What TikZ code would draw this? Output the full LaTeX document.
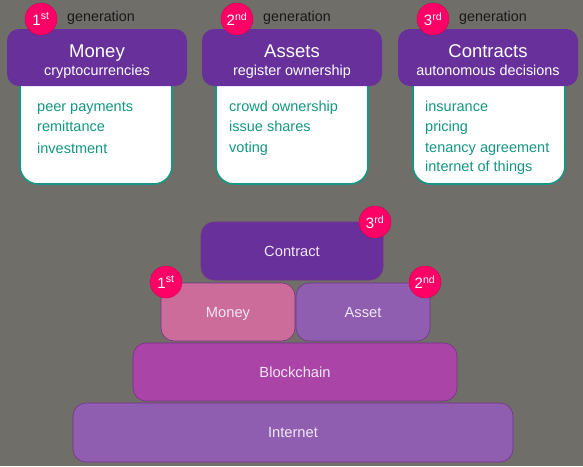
\documentclass[tikz,border=0pt]{standalone}
\usepackage{fontspec}
\setmainfont{Liberation Sans}
\definecolor{bg}{RGB}{111,110,105}
\definecolor{hdr}{RGB}{104,48,154}
\definecolor{badge}{RGB}{255,0,102}
\definecolor{teal}{RGB}{20,150,130}
\definecolor{pinkb}{RGB}{204,108,155}
\definecolor{lilac}{RGB}{143,94,176}
\definecolor{magb}{RGB}{170,68,166}
\definecolor{edge}{RGB}{120,50,140}
\definecolor{gentext}{RGB}{25,25,25}
\definecolor{lighttext}{RGB}{240,230,245}
\begin{document}
\begin{tikzpicture}[x=1pt,y=-1pt,
  hdrbox/.style={fill=hdr,rounded corners=12pt},
  bodybox/.style={fill=white,draw=teal,line width=1.6pt,rounded corners=18pt},
  badgenode/.style={circle,fill=badge,draw=badge!80!black,line width=0.4pt,minimum size=32pt,inner sep=0pt,text=white,font=\fontsize{15}{15}\selectfont},
  gen/.style={anchor=base west,inner sep=0pt,text=gentext,font=\fontsize{14.3}{14.3}\selectfont},
  title/.style={anchor=base,inner sep=0pt,text=white,font=\fontsize{18.5}{18.5}\selectfont},
  sub/.style={anchor=base,inner sep=0pt,text=white,font=\fontsize{14.4}{14.4}\selectfont},
  item/.style={anchor=base west,inner sep=0pt,text=teal,font=\fontsize{14.5}{14.5}\selectfont},
  layer/.style={draw=edge,line width=0.6pt,rounded corners=13pt,text=lighttext,text height=12pt,text depth=1.5pt,font=\fontsize{14.7}{14.7}\selectfont}
]
\fill[bg] (0,0) rectangle (583,466);

% cards
\foreach \hx/\bx in {7/20,202/216,398/413}{
  \path[bodybox] (\bx,60) -- (\bx,184) -- (\bx+152,184) -- (\bx+152,60) [sharp corners] -- cycle;
  \path[hdrbox] (\hx,29) rectangle (\hx+180,86);
}
\node[title] (t1) at (97,57) {Money};
\node[sub] (s1) at (97,75.5) {cryptocurrencies};
\node[title] (t2) at (292,57) {Assets};
\node[sub] (s2) at (292,75.5) {register ownership};
\node[title] (t3) at (488,57) {Contracts};
\node[sub] (s3) at (488,75.5) {autonomous decisions};

\node[badgenode] (b1) at (41,19) {1\textsuperscript{st}};
\node[badgenode] (b2) at (237,19) {2\textsuperscript{nd}};
\node[badgenode] (b3) at (433,19) {3\textsuperscript{rd}};
\node[gen] (g1) at (67,21.5) {generation};
\node[gen] (g2) at (263,21.5) {generation};
\node[gen] (g3) at (459,21.5) {generation};

\node[item] (i11) at (37,111) {peer payments};
\node[item] (i12) at (37,131) {remittance};
\node[item] (i13) at (37,153) {investment};
\node[item] (i21) at (229,111) {crowd ownership};
\node[item] (i22) at (229,131) {issue shares};
\node[item] (i23) at (229,152) {voting};
\node[item] (i31) at (425,111) {insurance};
\node[item] (i32) at (425,131) {pricing};
\node[item] (i33) at (425,152) {tenancy agreement};
\node[item] (i34) at (425,171) {internet of things};

% stack
\node[layer,fill=lilac,minimum width=440pt,minimum height=59pt] (inet) at (293,432.5) {Internet};
\node[layer,fill=magb,minimum width=324pt,minimum height=58pt] (chain) at (295,372) {Blockchain};
\node[layer,fill=pinkb,minimum width=134pt,minimum height=58pt] (money) at (228,312) {Money};
\node[layer,fill=lilac,minimum width=134pt,minimum height=58pt] (asset) at (363,312) {Asset};
\node[layer,fill=hdr,minimum width=182pt,minimum height=58pt] (contract) at (292,251) {Contract};
\node[badgenode] (c1) at (166,282) {1\textsuperscript{st}};
\node[badgenode] (c2) at (425,282) {2\textsuperscript{nd}};
\node[badgenode] (c3) at (375,222) {3\textsuperscript{rd}};
\end{tikzpicture}
\end{document}
